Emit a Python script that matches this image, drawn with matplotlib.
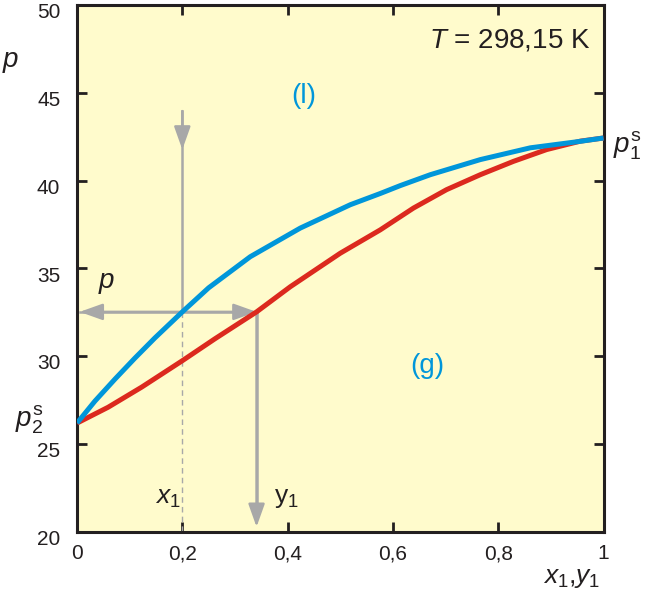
import matplotlib
matplotlib.use("Agg")
import matplotlib.pyplot as plt
import matplotlib.transforms as mtransforms

plt.rcParams.update({
    "font.family": ["Liberation Sans", "DejaVu Sans"],
    "mathtext.fontset": "custom",
    "mathtext.rm": "Liberation Sans",
    "mathtext.it": "Liberation Sans:italic",
    "mathtext.sf": "Liberation Sans",
})

# bubble curve p(x1) and dew curve p(y1), T = 298.15 K
x_liq = [0.0, 0.034, 0.072, 0.11, 0.148, 0.2, 0.25, 0.329, 0.424, 0.519, 0.576,
         0.614, 0.671, 0.766, 0.861, 0.956, 1.0]
p_liq = [26.2, 27.45, 28.7, 29.9, 31.05, 32.53, 33.9, 35.67, 37.3, 38.63, 39.27,
         39.72, 40.34, 41.2, 41.87, 42.24, 42.43]

y_vap = [0.0, 0.059, 0.123, 0.2, 0.262, 0.341, 0.405, 0.5, 0.576, 0.639, 0.702,
         0.766, 0.829, 0.892, 0.956, 1.0]
p_vap = [26.2, 27.1, 28.25, 29.75, 31.0, 32.53, 33.96, 35.87, 37.2, 38.44, 39.49,
         40.34, 41.1, 41.77, 42.25, 42.43]

# lever construction
x_sel, y_sel, p_sel = 0.2, 0.341, 32.53

xticks = [0, 0.2, 0.4, 0.6, 0.8, 1.0]
xtick_labels = ["0", "0,2", "0,4", "0,6", "0,8", "1"]
yticks = [20, 25, 30, 35, 40, 45, 50]

BG = "#FFFBCC"
BLUE = "#0096DA"
RED = "#DC291E"
GRAY = "#A8A8A8"
INK = "#231F20"

fig = plt.figure(figsize=(6.45, 5.96), dpi=100)
ax = fig.add_axes([0.1194, 0.1074, 0.8163, 0.8842])
ax.set_facecolor(BG)

ax.plot(y_vap, p_vap, color=RED, lw=3.6, solid_capstyle="butt",
        solid_joinstyle="round", zorder=3)
ax.plot(x_liq, p_liq, color=BLUE, lw=3.6, solid_capstyle="butt",
        solid_joinstyle="round", zorder=4)

# gray construction lines
ax.plot([x_sel, x_sel], [43.96, p_sel], color=GRAY, lw=1.8, zorder=2)
ax.plot([x_sel, x_sel], [p_sel, 20], color=GRAY, lw=1.0, ls=(0, (4, 3)), zorder=2)
ax.plot([0.005, y_sel], [p_sel, p_sel], color=GRAY, lw=1.8, zorder=2)
ax.plot([y_sel, y_sel], [p_sel, 20.9], color=GRAY, lw=1.8, zorder=2)
aprops = dict(arrowstyle="-|>,head_length=1.4,head_width=0.5", color=GRAY,
              lw=1.8, mutation_scale=10, shrinkA=0, shrinkB=0)
ax.annotate("", xy=(x_sel, 41.77), xytext=(x_sel, 43.96), arrowprops=aprops, zorder=2)
ax.annotate("", xy=(0.005, p_sel), xytext=(x_sel, p_sel), arrowprops=aprops, zorder=2)
ax.annotate("", xy=(y_sel, p_sel), xytext=(x_sel, p_sel), arrowprops=aprops, zorder=2)
ax.annotate("", xy=(y_sel, 20.29), xytext=(y_sel, p_sel), arrowprops=aprops, zorder=2)

ax.set_xlim(0, 1)
ax.set_ylim(20, 50)
ax.set_xticks(xticks)
ax.set_xticklabels(xtick_labels)
ax.set_yticks(yticks)
ax.tick_params(direction="in", length=7, width=2, colors=INK, labelsize=15,
               top=True, right=True)
ax.tick_params(axis="x", pad=9)
ax.tick_params(axis="y", pad=12)
for s in ax.spines.values():
    s.set_linewidth(2.2)
    s.set_color(INK)

# y tick labels sit a little below their ticks in the original
shift = mtransforms.ScaledTranslation(0, -4 / 72, fig.dpi_scale_trans)
for lab in ax.get_yticklabels():
    lab.set_transform(lab.get_transform() + shift)

fs = 20
ax.text(0.974, 48.0, r"$T$ = 298,15 K", ha="right", va="center", fontsize=fs, color=INK)
ax.text(0.431, 44.8, "(l)", ha="center", va="center", fontsize=fs, color=BLUE)
ax.text(0.665, 29.43, "(g)", ha="center", va="center", fontsize=fs, color=BLUE)
ax.text(0.057, 34.17, r"$p$", ha="center", va="center", fontsize=fs, color=INK)
ax.text(0.173, 21.94, r"$x_1$", ha="center", va="center", fontsize=19, color=INK)
ax.text(0.398, 21.94, r"y$_1$", ha="center", va="center", fontsize=19, color=INK)

ax.text(-0.127, 0.892, r"$p$", transform=ax.transAxes, ha="center", va="center",
        fontsize=fs, color=INK)
ax.text(0.94, -0.087, r"$x_1$,$y_1$", transform=ax.transAxes, ha="center", va="center",
        fontsize=19, color=INK)
ax.text(1.045, 42.0, r"$p_1^{\mathrm{s}}$", ha="center", va="center", fontsize=fs, color=INK,
        clip_on=False)
ax.text(-0.09, 26.4, r"$p_2^{\mathrm{s}}$", ha="center", va="center", fontsize=fs, color=INK,
        clip_on=False)

fig.savefig("out.png", dpi=100)
